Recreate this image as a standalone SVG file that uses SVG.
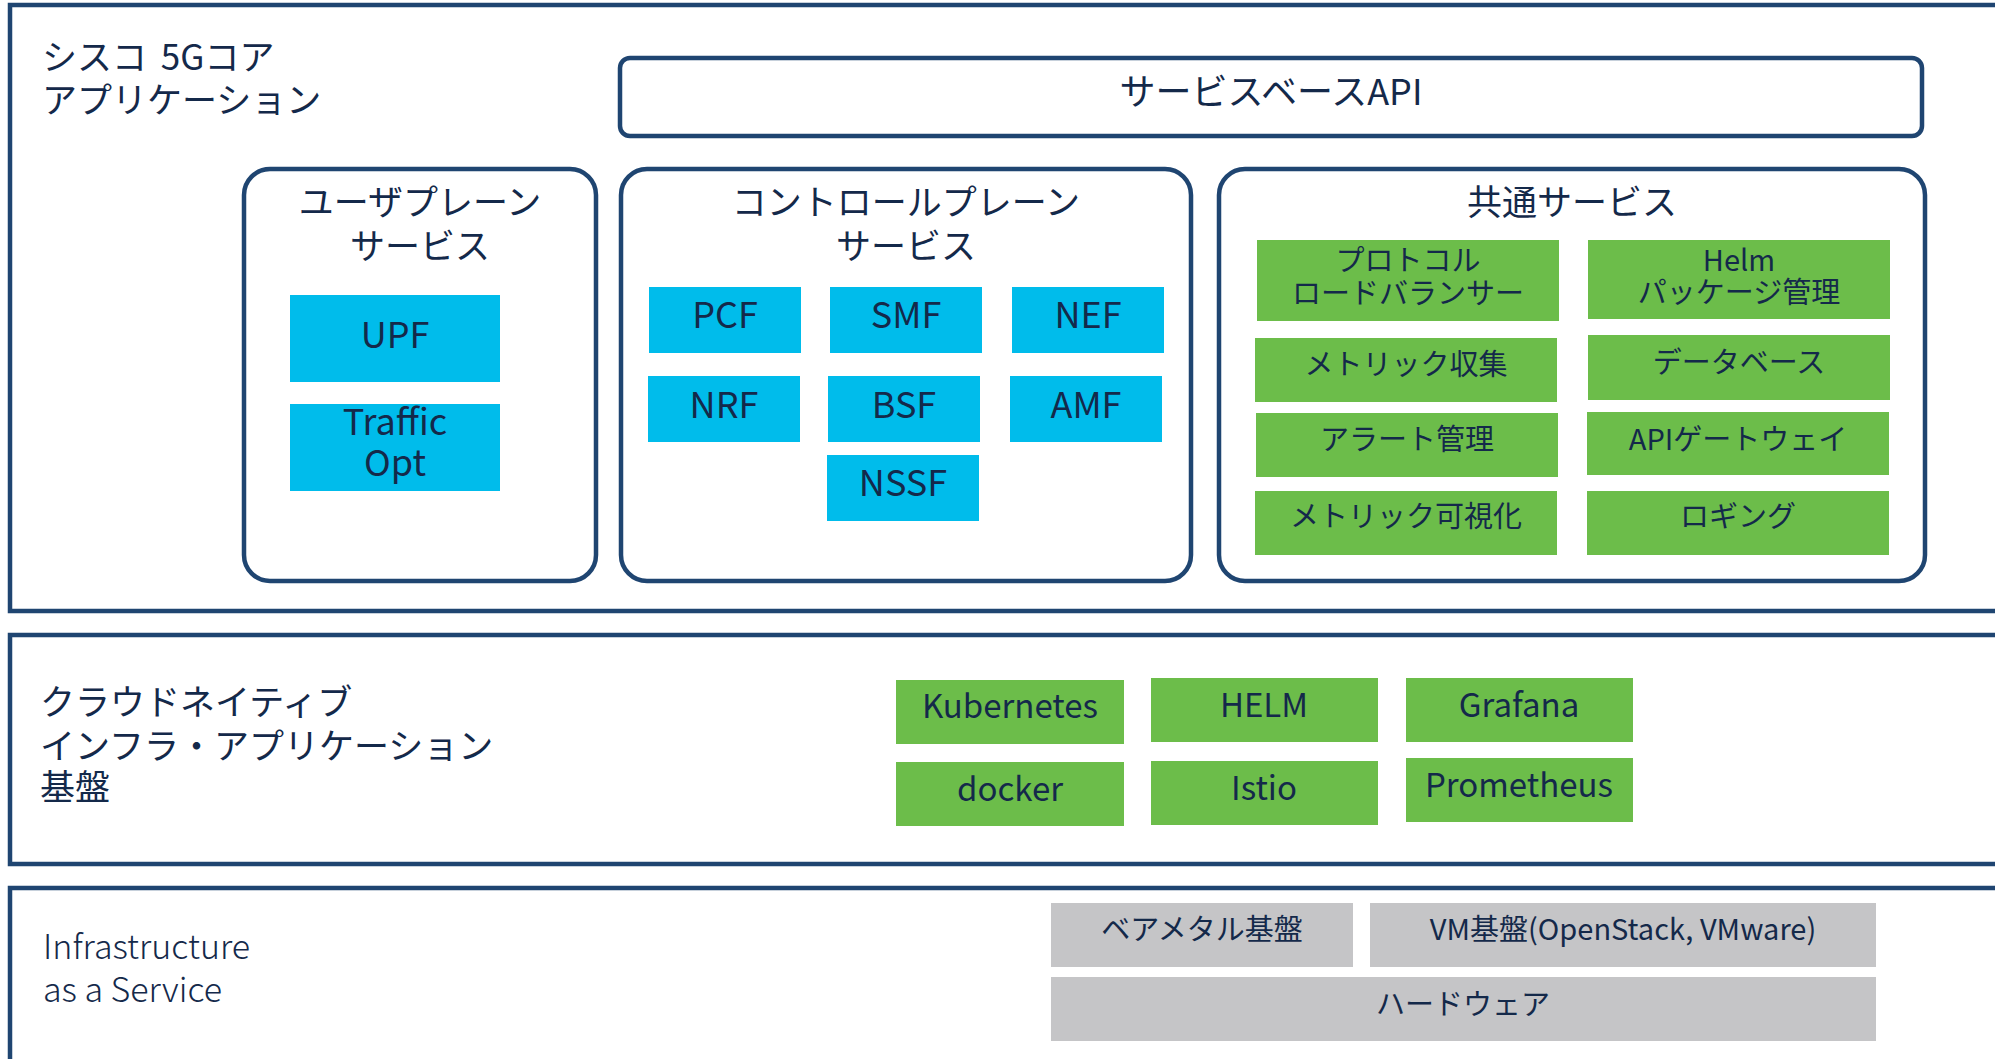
<svg xmlns="http://www.w3.org/2000/svg" width="1995" height="1059" viewBox="0 0 1995 1059">
<style>
text{font-family:"Noto Sans CJK JP","Liberation Sans",sans-serif;fill:#14294a}
.layer{fill:#fff;stroke:#1f4571;stroke-width:4.5}
.grp{fill:#fff;stroke:#1f4571;stroke-width:4.5}
.blue{fill:#00bceb}
.green{fill:#6cbd4a}
.gray{fill:#c5c5c7}
.t35{font-size:35px}
.t36{font-size:36px;text-anchor:middle}
.t30{font-size:29px;text-anchor:middle}
.t33{font-size:33px;text-anchor:middle}
.mid{text-anchor:middle}
</style>
<rect width="1995" height="1059" fill="#fff"/>
<g id="layer-app">
<rect class="layer" x="10" y="5" width="2010" height="606"/>
<text class="t35" x="42" y="70">シスコ <tspan dx="6">5Gコア</tspan></text>
<text class="t35" x="42" y="113">アプリケーション</text>
</g>
<g id="sba">
<rect class="grp" x="620" y="58" width="1302" height="78" rx="10"/>
<text class="t35 mid" x="1271" y="105" style="font-size:36px">サービスベースAPI</text>
</g>
<g id="user-plane">
<rect class="grp" x="244" y="169" width="352" height="412" rx="26"/>
<text class="t35 mid" x="420" y="215">ユーザプレーン</text>
<text class="t35 mid" x="420" y="259">サービス</text>
</g>
<g id="upf"><rect class="blue" x="290" y="295" width="210" height="87"/><text class="t36" x="395" y="348">UPF</text></g>
<g id="traffic-opt"><rect class="blue" x="290" y="404" width="210" height="87"/><text class="t36" x="395" y="435">Traffic</text><text class="t36" x="395" y="476">Opt</text></g>
<g id="control-plane">
<rect class="grp" x="621" y="169" width="570" height="412" rx="26"/>
<text class="t35 mid" x="906" y="215">コントロールプレーン</text>
<text class="t35 mid" x="906" y="259">サービス</text>
</g>
<g id="pcf"><rect class="blue" x="649" y="287" width="152" height="66"/><text class="t36" x="725" y="328">PCF</text></g>
<g id="smf"><rect class="blue" x="830" y="287" width="152" height="66"/><text class="t36" x="906" y="328">SMF</text></g>
<g id="nef"><rect class="blue" x="1012" y="287" width="152" height="66"/><text class="t36" x="1088" y="328">NEF</text></g>
<g id="nrf"><rect class="blue" x="648" y="376" width="152" height="66"/><text class="t36" x="724" y="418">NRF</text></g>
<g id="bsf"><rect class="blue" x="828" y="376" width="152" height="66"/><text class="t36" x="904" y="418">BSF</text></g>
<g id="amf"><rect class="blue" x="1010" y="376" width="152" height="66"/><text class="t36" x="1086" y="418">AMF</text></g>
<g id="nssf"><rect class="blue" x="827" y="455" width="152" height="66"/><text class="t36" x="903" y="496">NSSF</text></g>
<g id="common">
<rect class="grp" x="1219" y="169" width="706" height="412" rx="26"/>
<text class="t35 mid" x="1572" y="215">共通サービス</text>
</g>
<g id="proto-lb"><rect class="green" x="1257" y="240" width="302" height="81"/><text class="t30" x="1408" y="271">プロトコル</text><text class="t30" x="1408" y="304">ロードバランサー</text></g>
<g id="helm-pkg"><rect class="green" x="1588" y="240" width="302" height="79"/><text class="t30" x="1739" y="271">Helm</text><text class="t30" x="1739" y="303">パッケージ管理</text></g>
<g id="metric-collect"><rect class="green" x="1255" y="338" width="302" height="64"/><text class="t30" x="1406" y="375">メトリック収集</text></g>
<g id="database"><rect class="green" x="1588" y="335" width="302" height="65"/><text class="t30" x="1739" y="373">データベース</text></g>
<g id="alert"><rect class="green" x="1256" y="413" width="302" height="64"/><text class="t30" x="1407" y="450">アラート管理</text></g>
<g id="api-gw"><rect class="green" x="1587" y="412" width="302" height="63"/><text class="t30" x="1738" y="450">APIゲートウェイ</text></g>
<g id="metric-vis"><rect class="green" x="1255" y="491" width="302" height="64"/><text class="t30" x="1406" y="527">メトリック可視化</text></g>
<g id="logging"><rect class="green" x="1587" y="491" width="302" height="64"/><text class="t30" x="1738" y="527">ロギング</text></g>
<g id="layer-cloud">
<rect class="layer" x="10" y="635" width="2010" height="229"/>
<text class="t35" x="40" y="715">クラウドネイティブ</text>
<text class="t35" x="40" y="759">インフラ・アプリケーション</text>
<text class="t35" x="40" y="800">基盤</text>
</g>
<g id="kubernetes"><rect class="green" x="896" y="680" width="228" height="64"/><text class="t33" x="1010" y="718">Kubernetes</text></g>
<g id="helm"><rect class="green" x="1151" y="678" width="227" height="64"/><text class="t33" x="1264" y="717">HELM</text></g>
<g id="grafana"><rect class="green" x="1406" y="678" width="227" height="64"/><text class="t33" x="1519" y="717">Grafana</text></g>
<g id="docker"><rect class="green" x="896" y="762" width="228" height="64"/><text class="t33" x="1010" y="801">docker</text></g>
<g id="istio"><rect class="green" x="1151" y="761" width="227" height="64"/><text class="t33" x="1264" y="800">Istio</text></g>
<g id="prometheus"><rect class="green" x="1406" y="758" width="227" height="64"/><text class="t33" x="1519" y="797">Prometheus</text></g>
<g id="layer-iaas">
<rect class="layer" x="10" y="888" width="2010" height="200"/>
<text x="43" y="959" style="font-size:34px;font-weight:300">Infrastructure</text>
<text x="43" y="1002" style="font-size:34px;font-weight:300">as a Service</text>
</g>
<g id="baremetal"><rect class="gray" x="1051" y="903" width="302" height="64"/><text class="t30" x="1202" y="940">ベアメタル基盤</text></g>
<g id="vm"><rect class="gray" x="1370" y="903" width="506" height="64"/><text class="t30" x="1623" y="940">VM基盤(OpenStack, VMware)</text></g>
<g id="hardware"><rect class="gray" x="1051" y="977" width="825" height="64"/><text class="t30" x="1463" y="1015">ハードウェア</text></g>
<g id="connectors"/>
</svg>
